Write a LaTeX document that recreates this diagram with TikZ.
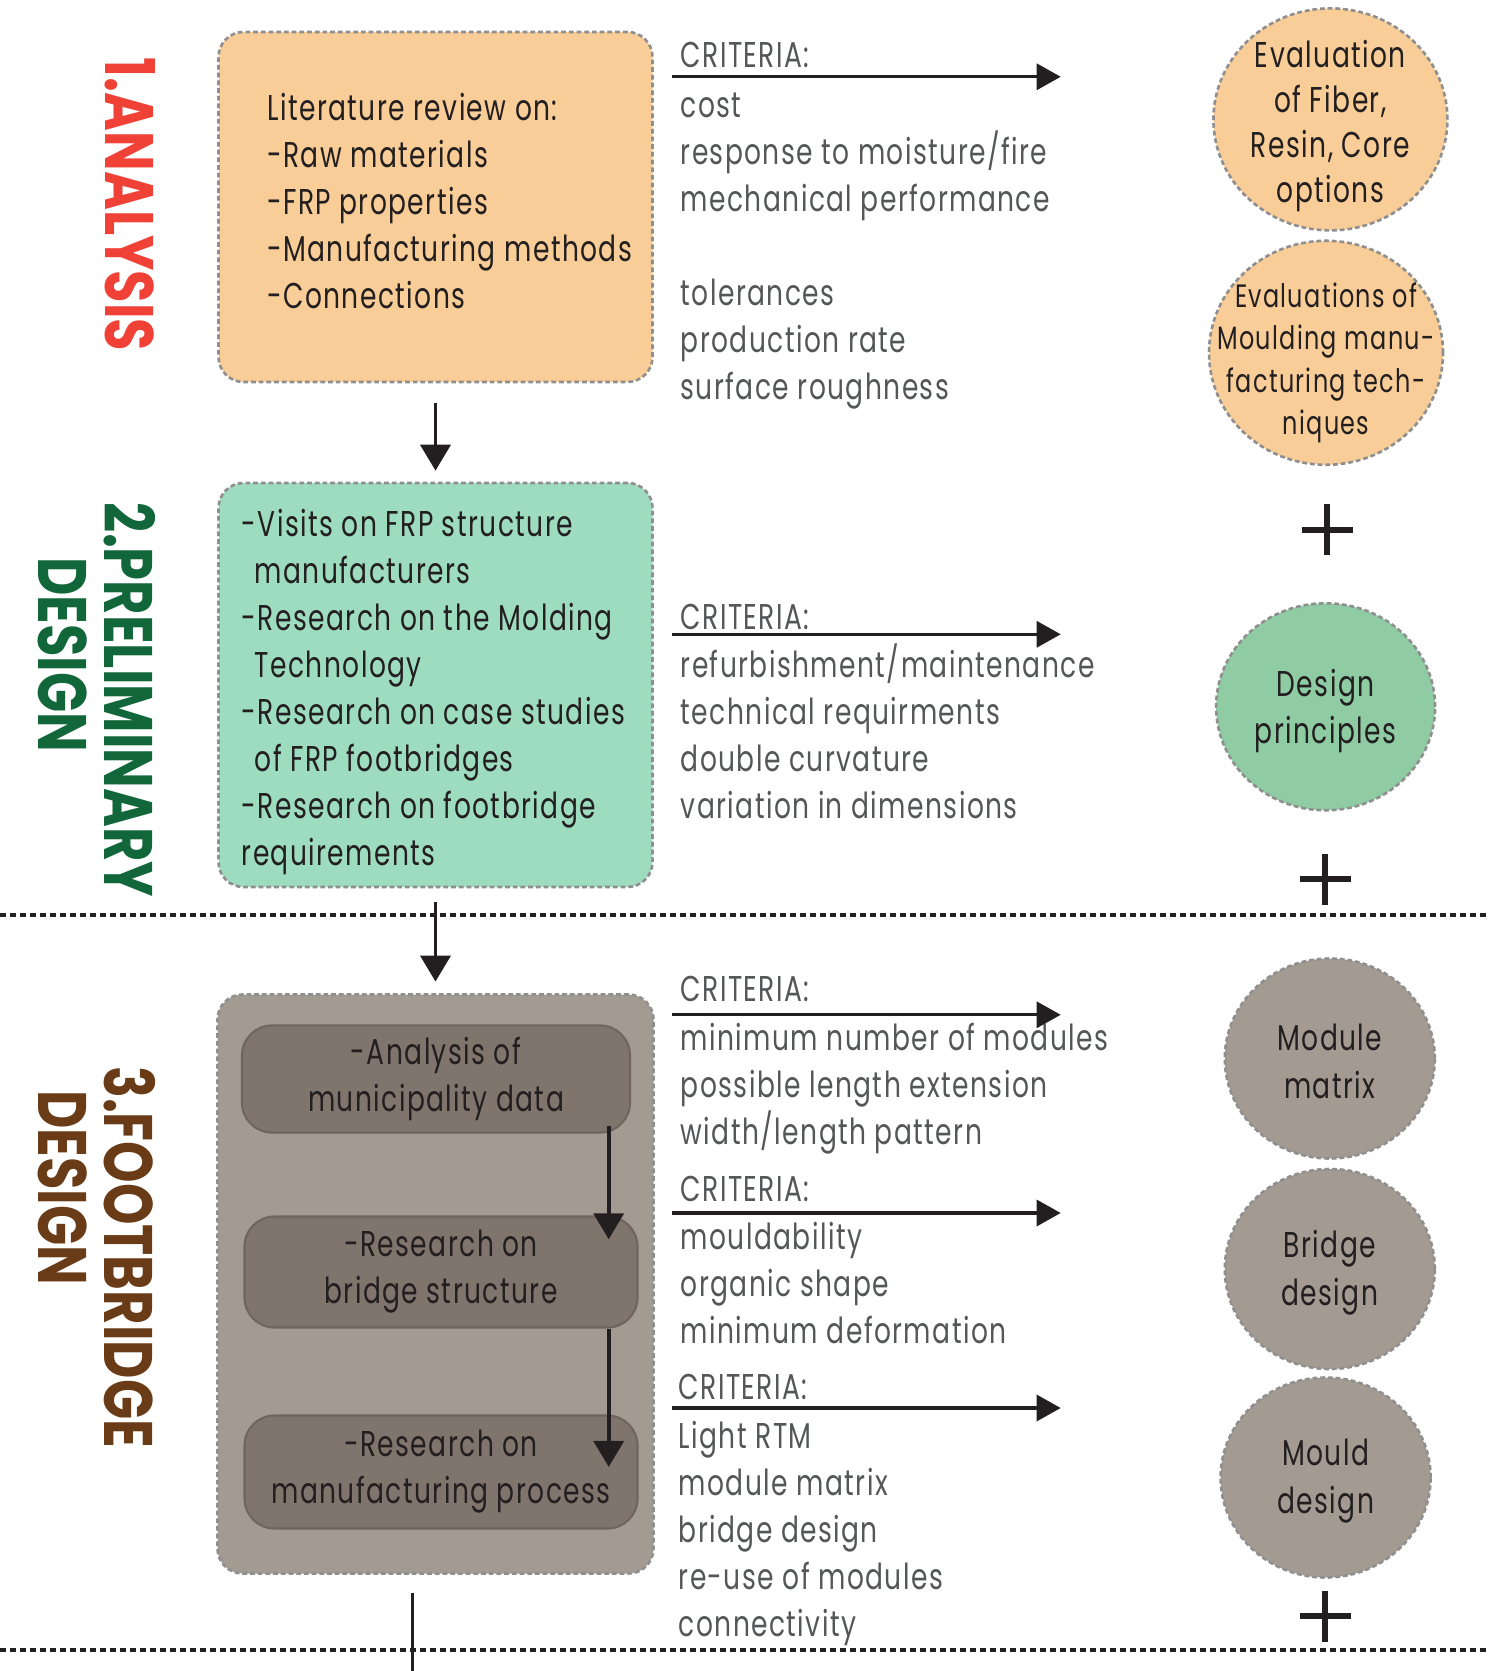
\documentclass[tikz,border=0pt]{standalone}
\usepackage{fontspec}
\setmainfont{Poppins}[FakeStretch=0.74,LetterSpace=4]
\newfontfamily\titlefont{Poppins}[FakeStretch=0.77]
\usetikzlibrary{arrows.meta,calc,shapes.geometric}

\definecolor{anared}{HTML}{EF4136}
\definecolor{pregreen}{HTML}{11673A}
\definecolor{fbbrown}{HTML}{693B16}
\definecolor{anafill}{HTML}{F9CD97}
\definecolor{prefill}{HTML}{9EDCBF}
\definecolor{precircle}{HTML}{8FCCA4}
\definecolor{fbfill}{HTML}{A39A91}
\definecolor{stepfill}{HTML}{80756C}
\definecolor{stepdraw}{HTML}{6E655D}
\definecolor{dashgray}{HTML}{8F8F8F}
\definecolor{critgray}{HTML}{555658}
\definecolor{ink}{HTML}{231F20}

\tikzset{
  title/.style={rotate=-90, inner sep=0pt, font=\titlefont\bfseries\fontsize{19.5}{19.5}\selectfont},
  phasebox/.style={draw=dashgray, dash pattern=on 0.47mm off 0.3mm, line width=0.75pt, rounded corners=2.5mm},
  boxtxt/.style={anchor=west, align=left, inner sep=0pt, text=ink, font=\fontsize{10.2}{13.37}\selectfont},
  stepbox/.style={draw=stepdraw, fill=stepfill, line width=0.6pt, rounded corners=3mm, align=center, text=ink, font=\fontsize{10.2}{13.37}\selectfont},
  ring/.style={ellipse, draw=dashgray, dash pattern=on 0.47mm off 0.3mm, line width=0.75pt},
  ringtxt/.style={align=center, inner sep=0pt, text=ink, font=\fontsize{10.2}{12.8}\selectfont},
  crit/.style={anchor=west, align=left, inner sep=0pt, text=critgray, font=\fontsize{10.2}{13.37}\selectfont},
  arr/.style={draw=ink, line width=1.1pt, -{Triangle[length=2.6mm,width=3mm]}},
  critarr/.style={draw=ink, line width=0.9pt, -{Triangle[length=2.4mm,width=2.6mm]}},
  sep/.style={draw=ink, line width=1.1pt, dash pattern=on 0.55mm off 0.45mm},
  plusline/.style={draw=ink, line width=1.9pt}
}

\begin{document}
\begin{tikzpicture}[x=0.1mm,y=-0.1mm]
\useasboundingbox (0,0) rectangle (1488,1671);

% 1. analysis
\node[title, text=anared] (ana) at (130,204.6) {1.ANALYSIS};
\node[phasebox, fill=anafill, minimum width=43.4mm, minimum height=35mm] (lit) at (435.5,207) {};
\node[boxtxt] (littxt) at (266.5,201.5) {Literature review on:\\-Raw materials\\-FRP properties\\-Manufacturing methods\\-Connections};

\node[crit] (critA) at (680,55.4) {CRITERIA:};
\node[crit] (listA) at (680,251.4) {cost\\response to moisture/fire\\mechanical performance\\[13.37pt]tolerances\\production rate\\surface roughness};
\coordinate (aA) at (671.6,76.8);
\coordinate (bA) at (1060.7,76.8);
\draw[critarr] (aA) -- (bA);

\node[ring, fill=anafill, minimum width=23.4mm, minimum height=22.2mm] (evA) at (1330.4,119.4) {};
\node[ringtxt] (evAt) at ($(evA)+(0,6.4)$) {Evaluation\\of Fiber,\\Resin, Core\\options};
\node[ring, fill=anafill, minimum width=23.4mm, minimum height=22.4mm] (evB) at (1326,352.8) {};
\node[ringtxt, font=\fontsize{9.2}{12}\selectfont] (evBt) at ($(evB)+(0,10)$) {Evaluations of\\Moulding manu-\\facturing tech-\\niques};
\draw[plusline] (1327,530) +(-25.5,0) -- +(25.5,0) +(0,-25.5) -- +(0,25.5);

% 2. preliminary design
\node[title, text=pregreen] (preA) at (130,700) {2.PRELIMINARY};
\node[title, text=pregreen] (preB) at (63,654.6) {DESIGN};
\node[phasebox, fill=prefill, minimum width=43.4mm, minimum height=40.4mm] (pre) at (435.5,685) {};
\node[boxtxt] (pretxt) at (241,692)
  {-Visits on FRP structure\\\hspace*{1.3mm}manufacturers\\-Research on the Molding\\\hspace*{1.3mm}Technology\\-Research on case studies\\\hspace*{1.3mm}of FRP footbridges\\-Research on footbridge\\requirements};
\draw[arr] ($(lit.south)+(0,20)$) -- ($(pre.north)+(0,-11)$);

\node[crit] (critB) at (680,617) {CRITERIA:};
\node[crit] (listB) at (680,731.3) {refurbishment/maintenance\\technical requirments\\double curvature\\variation in dimensions};
\coordinate (aB) at (671.6,634.3);
\coordinate (bB) at (1060.7,634.3);
\draw[critarr] (aB) -- (bB);

\node[ring, fill=precircle, minimum width=21.9mm, minimum height=20.7mm] (dp) at (1325.6,706.8) {};
\node[ringtxt, font=\fontsize{10.2}{13.2}\selectfont] (dpt) at ($(dp)+(0,4.3)$) {Design\\principles};
\draw[plusline] (1325,879) +(-25.5,0) -- +(25.5,0) +(0,-25.5) -- +(0,25.5);

\draw[sep] (0,914.6) -- (1488,914.6);

% 3. footbridge design
\node[title, text=fbbrown] (fbA) at (130,1257) {3.FOOTBRIDGE};
\node[title, text=fbbrown] (fbB) at (63,1187.5) {DESIGN};
\node[phasebox, fill=fbfill, minimum width=43.6mm, minimum height=57.9mm] (fb) at (435.5,1284) {};
\draw[arr] ($(pre.south)+(0,14)$) -- ($(fb.north)+(0,-11.6)$);

\node[stepbox, minimum width=38.8mm, minimum height=10.7mm] (mun) at (436,1079) {-Analysis of\\municipality data};
\node[stepbox, minimum width=39.3mm, minimum height=11.1mm] (brs) at (441,1272) {-Research on\\bridge structure};
\node[stepbox, minimum width=39.3mm, minimum height=11.3mm] (man) at (441,1472) {-Research on\\manufacturing process};
\coordinate (lane) at (608.7,0);
\draw[arr] ($(mun.south -| lane)+(0,-7.4)$) -- ($(brs.north -| lane)+(0,23.8)$);
\draw[arr] (brs.south -| lane) -- ($(man.north -| lane)+(0,52.4)$);
\coordinate (out) at (412.5,1671);
\draw[draw=ink, line width=1.1pt] ($(fb.south -| out)+(0,18)$) -- (out);

\node[crit] (critC) at (680,989) {CRITERIA:};
\node[crit] (listC) at (680,1088.8) {minimum number of modules\\possible length extension\\width/length pattern};
\coordinate (aC) at (671.6,1014.8);
\coordinate (bC) at (1060.7,1014.8);
\draw[critarr] (aC) -- (bC);

\node[crit] (critD) at (680,1188.6) {CRITERIA:};
\node[crit] (listD) at (680,1283) {mouldability\\organic shape\\minimum deformation};
\coordinate (aD) at (671.6,1213);
\coordinate (bD) at (1060.7,1213);
\draw[critarr] (aD) -- (bD);

\node[crit] (critE) at (678,1386.9) {CRITERIA:};
\node[crit] (listE) at (678,1533.2) {Light RTM\\module matrix\\bridge design\\re-use of modules\\connectivity};
\coordinate (aE) at (671.6,1408);
\coordinate (bE) at (1060.7,1408);
\draw[critarr] (aE) -- (bE);

\node[ring, fill=fbfill, minimum width=21mm, minimum height=20mm] (mm) at (1329.8,1058.5) {};
\node[ringtxt, font=\fontsize{10.2}{13.6}\selectfont] (mmt) at ($(mm)+(0,3.2)$) {Module\\matrix};
\node[ring, fill=fbfill, minimum width=21mm, minimum height=20mm] (bd) at (1329.8,1269) {};
\node[ringtxt, font=\fontsize{10.2}{13.6}\selectfont] (bdt) at ($(bd)+(0,3.7)$) {Bridge\\design};
\node[ring, fill=fbfill, minimum width=21mm, minimum height=20mm] (md) at (1325.6,1477.5) {};
\node[ringtxt, font=\fontsize{10.2}{13.6}\selectfont] (mdt) at ($(md)+(0,3.7)$) {Mould\\design};
\draw[plusline] (1325,1616) +(-25.5,0) -- +(25.5,0) +(0,-25.5) -- +(0,25.5);

\draw[sep] (0,1650) -- (1488,1650);
\end{tikzpicture}
\end{document}
